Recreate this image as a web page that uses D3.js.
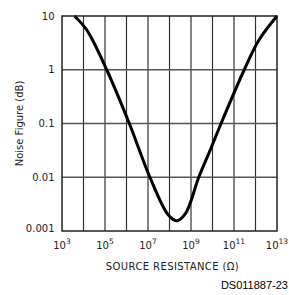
<!DOCTYPE html>
<html>
<head>
<meta charset="utf-8">
<script src="https://cdn.jsdelivr.net/npm/d3@7/dist/d3.min.js"></script>
<style>
  body { margin: 0; background: #fff; }
  text { font-family: "DejaVu Sans", sans-serif; fill: #222; }
</style>
</head>
<body>
<div id="chart"></div>
<script>
// source resistance (ohms) and noise figure (dB)
const resistance = [3.8e3, 1.41e4, 1.2e5, 1.35e6, 1.23e7, 8.7e7, 2.14e8, 5.5e8, 2.34e9, 9.1e9, 2.5e10, 3.0e11, 1.45e12, 1e13];
const noiseFigure = [10, 5.5, 1, 0.1, 0.01, 0.002, 0.00155, 0.0021, 0.0102, 0.037, 0.1, 1, 3.57, 10];

const xTicks = [1e3, 1e5, 1e7, 1e9, 1e11, 1e13];
const xGrid = [1e4, 1e5, 1e6, 1e7, 1e8, 1e9, 1e10, 1e11, 1e12];
const yTicks = [10, 1, 0.1, 0.01, 0.001];
const yTickLabels = ["10", "1", "0.1", "0.01", "0.001"];
const yGrid = [1, 0.1, 0.01];

const width = 289;
const height = 295;
const margin = { top: 16, right: 12, bottom: 64, left: 62 };
const plotW = width - margin.left - margin.right;
const plotH = height - margin.top - margin.bottom;

const svg = d3.select("#chart")
  .append("svg")
  .attr("width", width)
  .attr("height", height);

const g = svg.append("g")
  .attr("transform", `translate(${margin.left},${margin.top})`);

const x = d3.scaleLog().domain([1e3, 1e13]).range([0, plotW]);
const y = d3.scaleLog().domain([0.001, 10]).range([plotH, 0]);

// grid
g.selectAll(".vgrid")
  .data(xGrid)
  .enter()
  .append("line")
  .attr("x1", (d) => x(d))
  .attr("x2", (d) => x(d))
  .attr("y1", 0)
  .attr("y2", plotH)
  .attr("stroke", "#333")
  .attr("stroke-width", 1.2);

g.selectAll(".hgrid")
  .data(yGrid)
  .enter()
  .append("line")
  .attr("x1", 0)
  .attr("x2", plotW)
  .attr("y1", (d) => y(d))
  .attr("y2", (d) => y(d))
  .attr("stroke", "#555")
  .attr("stroke-width", 1.5);

g.append("rect")
  .attr("x", 0)
  .attr("y", 0)
  .attr("width", plotW)
  .attr("height", plotH)
  .attr("fill", "none")
  .attr("stroke", "#222")
  .attr("stroke-width", 1.5);

// curve
const pts = resistance.map((r, i) => ({ r: r, nf: noiseFigure[i] }));
const line = d3.line()
  .x((d) => x(d.r))
  .y((d) => y(d.nf))
  .curve(d3.curveCatmullRom.alpha(0.5));

g.append("path")
  .datum(pts)
  .attr("fill", "none")
  .attr("stroke", "#000")
  .attr("stroke-width", 3)
  .attr("stroke-linejoin", "round")
  .attr("d", line);

// y tick labels
g.selectAll(".ylab")
  .data(yTicks)
  .enter()
  .append("text")
  .attr("x", -7.5)
  .attr("y", (d) => y(d) + (d === 0.001 ? 1 : 3.7))
  .attr("text-anchor", "end")
  .style("font-size", "10px")
  .text((d, i) => yTickLabels[i]);

// x tick labels: 10 with superscript exponent
const xl = g.selectAll(".xlab")
  .data(xTicks)
  .enter()
  .append("text")
  .attr("x", (d) => x(d))
  .attr("y", plotH + 17.5)
  .attr("text-anchor", "middle")
  .style("font-size", "10px");
xl.append("tspan").text("10");
xl.append("tspan")
  .attr("dy", -5)
  .style("font-size", "7.5px")
  .text((d) => Math.round(Math.log10(d)));

// axis titles
g.append("text")
  .attr("x", plotW / 2 + 3)
  .attr("y", plotH + 39)
  .attr("text-anchor", "middle")
  .style("font-size", "10px")
  .style("letter-spacing", "0.4px")
  .text("SOURCE RESISTANCE (\u03A9)");

g.append("text")
  .attr("transform", "rotate(-90)")
  .attr("x", -plotH / 2)
  .attr("y", -39)
  .attr("text-anchor", "middle")
  .style("font-size", "10px")
  .text("Noise Figure (dB)");

svg.append("text")
  .attr("x", 288)
  .attr("y", 289)
  .attr("text-anchor", "end")
  .style("font-family", "'Liberation Sans', Arial, sans-serif")
  .style("font-size", "11px")
  .style("fill", "#000")
  .text("DS011887-23");
</script>
</body>
</html>
